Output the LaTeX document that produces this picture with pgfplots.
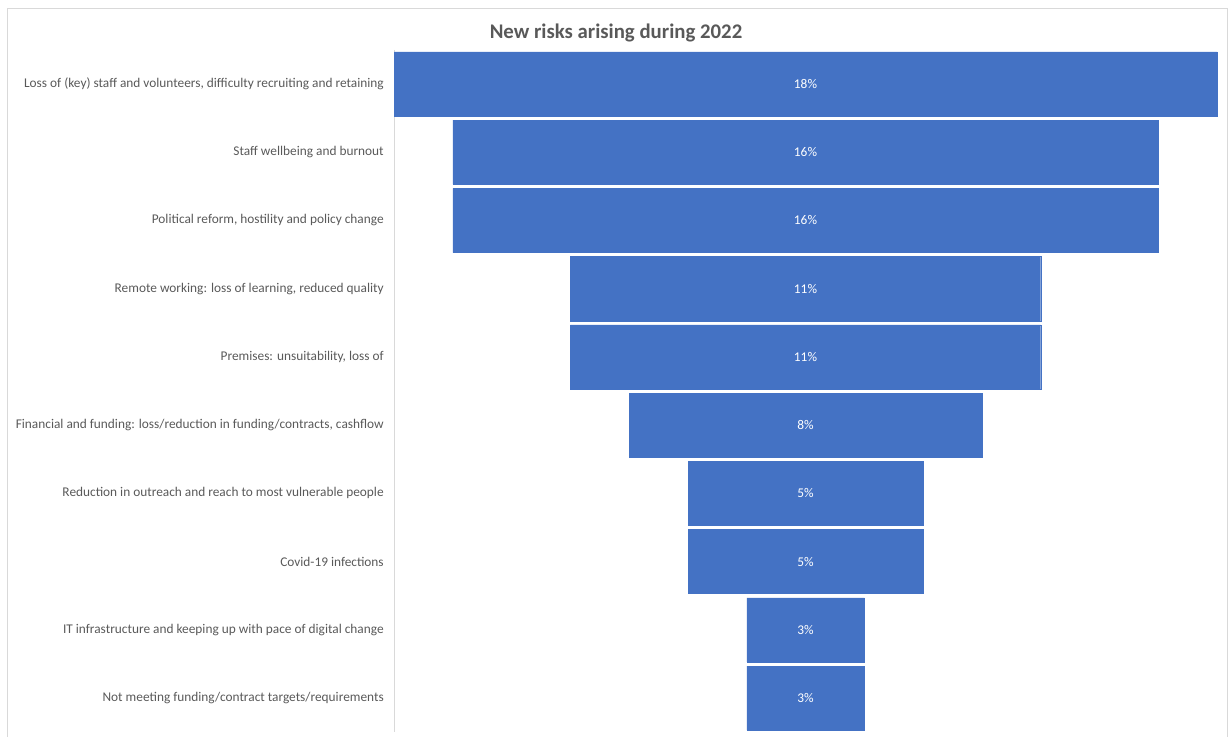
\documentclass[border=0pt]{standalone}
\usepackage{fontspec}
\setmainfont{Carlito}
\usepackage{pgfplots}
\pgfplotsset{compat=1.18}
\usepackage{pgfplotstable}
\definecolor{barblue}{HTML}{4472C4}
\definecolor{txtgray}{HTML}{595959}
\definecolor{linegray}{HTML}{D9D9D9}
\pgfplotstableread{
idx v
0 18.42
1 15.79
2 15.79
3 10.53
4 10.53
5 7.89
6 5.26
7 5.26
8 2.63
9 2.63
}\datatable
\begin{document}
\begin{tikzpicture}
\useasboundingbox (0,0) rectangle (922.5pt,552pt);
\draw[linegray, line width=0.75pt] (5.25pt,-5pt) -- (5.25pt,545.25pt) -- (920.25pt,545.25pt) -- (920.25pt,-5pt);
\node[font=\bfseries\fontsize{15.6}{18}\selectfont, text=txtgray] at (462pt,527.5pt) {New risks arising during 2022};
\begin{axis}[
  at={(295.5pt,2.85pt)}, anchor=south west,
  scale only axis, width=617.25pt, height=511.75pt,
  xmin=-9.21, xmax=9.21, ymin=-0.5, ymax=9.5, y dir=reverse,
  axis x line=none, axis y line*=left,
  y axis line style={linegray, line width=0.75pt},
  ytick={0,...,9},
  yticklabels={{Loss of (key) staff and volunteers, difficulty recruiting and retaining},
    {Staff wellbeing and burnout},
    {Political reform, hostility and policy change},
    {Remote working: loss of learning, reduced quality},
    {Premises: unsuitability, loss of},
    {Financial and funding: loss/reduction in funding/contracts, cashflow},
    {Reduction in outreach and reach to most vulnerable people},
    {Covid-19 infections},
    {IT infrastructure and keeping up with pace of digital change},
    {Not meeting funding/contract targets/requirements}},
  major tick length=0pt, ytick style={draw=none},
  yticklabel style={font=\fontsize{10}{12}\selectfont, text=txtgray, inner sep=0pt, xshift=-7.5pt},
  /pgf/number format/assume math mode=true,
  clip=false,
]
\addplot[xbar, bar width=0.94, bar shift=0pt, fill=barblue, draw=barblue, line width=0.3pt]
  table[x expr=\thisrow{v}/2, y=idx]{\datatable};
\addplot[xbar, bar width=0.94, bar shift=0pt, fill=barblue, draw=barblue, line width=0.3pt]
  table[x expr=-\thisrow{v}/2, y=idx]{\datatable};
\addplot[draw=none, mark=none, point meta=explicit,
  nodes near coords={\pgfmathprintnumber[fixed,precision=0,assume math mode=true]{\pgfplotspointmeta}\%},
  every node near coord/.append style={anchor=center, text=white, font=\fontsize{10}{12}\selectfont}]
  table[x expr=0, y=idx, meta=v]{\datatable};
\end{axis}
\end{tikzpicture}
\end{document}
